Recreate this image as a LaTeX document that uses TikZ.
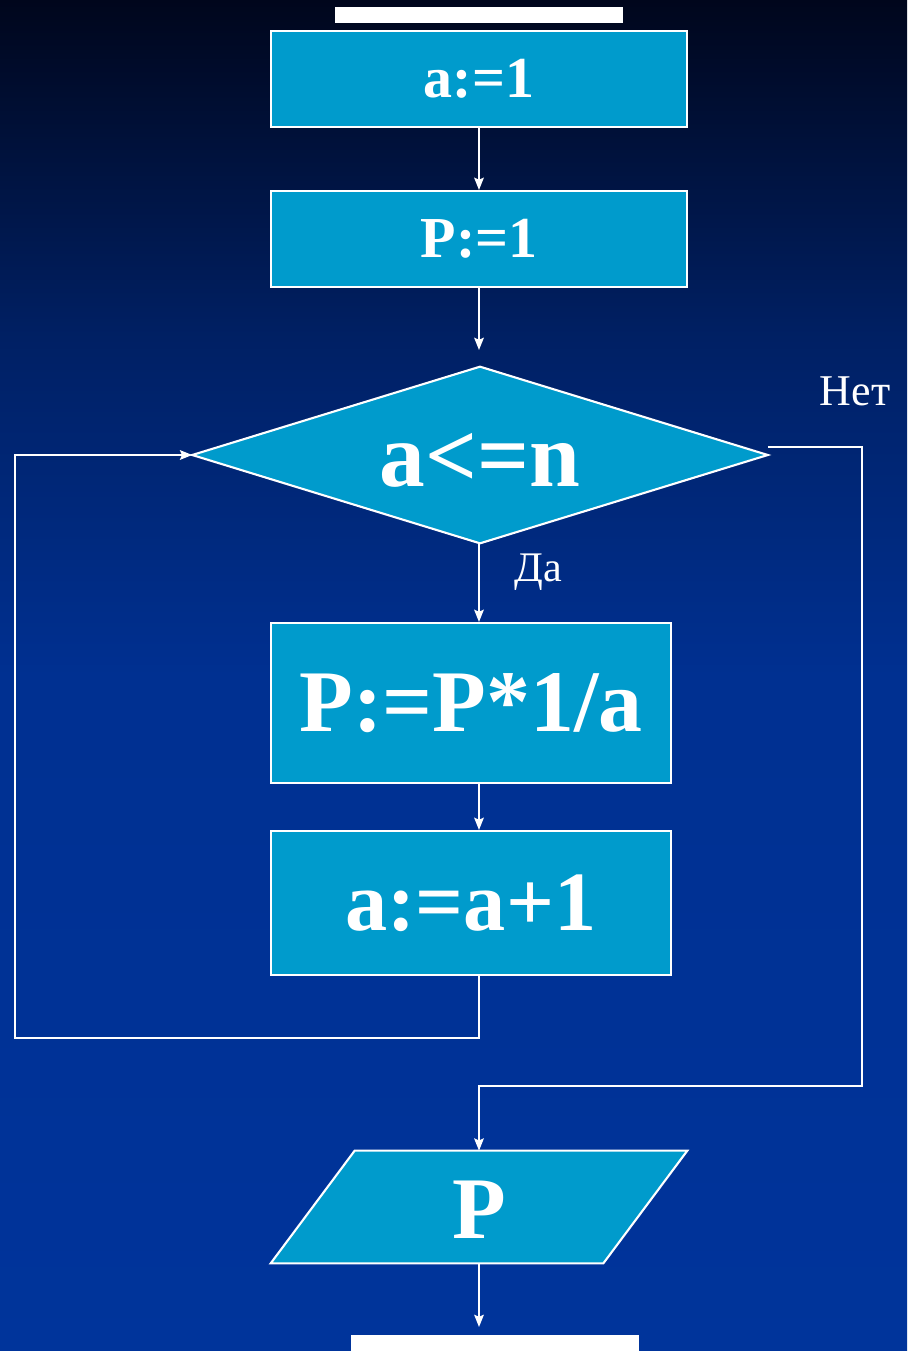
\documentclass[tikz,border=0pt]{standalone}
\usepackage{fontspec}
\setmainfont{Liberation Serif}
\usetikzlibrary{arrows.meta}
\definecolor{boxfill}{RGB}{0,155,204}
\definecolor{bgA}{RGB}{0,6,28}
\definecolor{bgB}{RGB}{0,32,100}
\definecolor{bgC}{RGB}{0,48,145}
\definecolor{bgD}{RGB}{0,52,155}
\pgfdeclareverticalshading{bgshade}{100bp}{color(0bp)=(bgD); color(25bp)=(bgD); color(50bp)=(bgC); color(62.5bp)=(bgB); color(75bp)=(bgA); color(100bp)=(bgA)}
\tikzset{
  procbox/.style={draw=white, line width=1.2pt, fill=boxfill, text=white, font=\bfseries, inner sep=0pt},
  shapeline/.style={draw=white, line width=1.2pt, fill=boxfill},
  conn/.style={draw=white, line width=1pt},
  arr/.style={conn, -{Stealth[length=7pt,width=5.5pt,inset=1.2pt]}},
  lbl/.style={text=white, inner sep=0pt},
}
\begin{document}
\begin{tikzpicture}[x=0.02cm, y=-0.02cm]
  \useasboundingbox (0,0) rectangle (907,1351);
  \shade[shading=bgshade] (0,0) rectangle (907,1351);
  % top and bottom bars
  \fill[white] (335,7) rectangle (623,23);
  \fill[white] (351,1335) rectangle (639,1351);
  % boxes
  \node[procbox, minimum width=8.32cm, minimum height=1.92cm, font=\bfseries\fontsize{33}{35}\selectfont] (b1) at (479,79) {a:=1};
  \node[procbox, minimum width=8.32cm, minimum height=1.92cm, font=\bfseries\fontsize{33}{35}\selectfont] (b2) at (479,239) {P:=1};
  % decision diamond
  \node[minimum width=11.5cm, minimum height=3.52cm, inner sep=0pt] (dia) at (480,455) {};
  \filldraw[shapeline] (dia.north) -- (dia.east) -- (dia.south) -- (dia.west) -- cycle;
  \node[lbl, font=\bfseries\fontsize{52}{54}\selectfont] (diatxt) at (480,460) {a<=n};
  \node[procbox, minimum width=8cm, minimum height=3.2cm, font=\bfseries\fontsize{50}{52}\selectfont] (b3) at (471,703) {P:=P*1/a};
  \node[procbox, minimum width=8cm, minimum height=2.88cm, font=\bfseries\fontsize{48}{50}\selectfont] (b4) at (471,903) {a:=a+1};
  % output parallelogram
  \node[minimum width=8.32cm, minimum height=2.24cm, inner sep=0pt] (out) at (479,1207) {};
  \filldraw[shapeline]
    (out.south west) -- ([xshift=1.68cm]out.north west) -- (out.north east)
    -- ([xshift=-1.68cm]out.south east) -- cycle;
  \node[lbl, font=\bfseries\fontsize{50}{52}\selectfont] (outtxt) at (479,1210) {P};
  % labels
  \node[lbl, font=\fontsize{25}{27}\selectfont] (net) at (855,391) {Нет};
  \node[lbl, font=\fontsize{24}{26}\selectfont] (da) at (538,572) {Да};
  % connectors
  \coordinate (dtop) at (479,350);
  \coordinate (lb) at (15,1038);
  \coordinate (rt) at (862,1086);
  \coordinate (e) at (479,1327);
  \draw[arr] (b1.south -| 479,0) -- (b2.north -| 479,0);
  \draw[arr] (b2.south -| 479,0) -- (dtop);
  \draw[arr] (dia.south -| 479,0) -- (b3.north -| 479,0);
  \draw[arr] (b3.south -| 479,0) -- (b4.north -| 479,0);
  \draw[arr] (b4.south -| 479,0) |- (lb) |- (dia.west);
  \draw[arr] ([yshift=0.16cm]dia.east) -| (rt) -| (out.north);
  \draw[arr] (out.south) -- (e);
\end{tikzpicture}
\end{document}
